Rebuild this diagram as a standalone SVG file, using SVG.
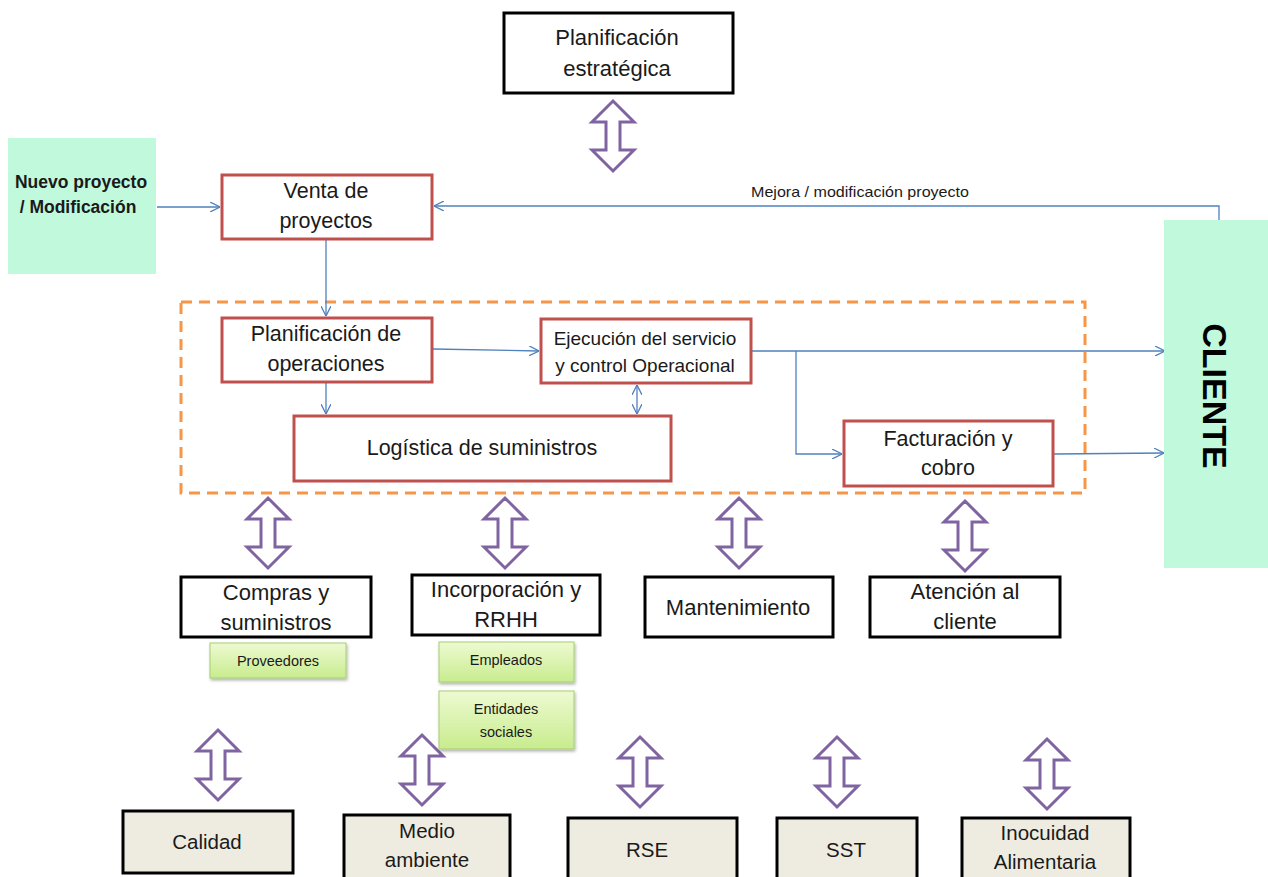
<svg xmlns="http://www.w3.org/2000/svg" width="1268" height="877" viewBox="0 0 1268 877">
<style>
text{font-family:"Liberation Sans",Arial,sans-serif;fill:#1a1a1a;text-anchor:middle}
.t{font-size:21.5px}
.b{font-size:22px}
.q{font-size:20.5px}
.s{font-size:14.5px}
.red{fill:#fff;stroke:#c0504d;stroke-width:3}
.blk{fill:#fff;stroke:#000;stroke-width:3}
.beige{fill:#eeece1;stroke:#000;stroke-width:3}
.grn{fill:url(#g);stroke:#a6cf6e;stroke-width:1}
.teal{fill:#c0f9dc}
.con{fill:none;stroke:#4f81bd;stroke-width:1.3}
.dbl{fill:#fff;stroke:#8064a2;stroke-width:3;stroke-linejoin:miter}
</style>
<defs>
<linearGradient id="g" x1="0" y1="0" x2="0" y2="1"><stop offset="0" stop-color="#eefad2"/><stop offset="1" stop-color="#c8ec8e"/></linearGradient>
<marker id="a" viewBox="0 0 10 10" refX="10" refY="5" markerWidth="10" markerHeight="10" markerUnits="userSpaceOnUse" orient="auto-start-reverse"><path d="M0,0 L10,5 L0,10" fill="none" stroke="#4f81bd" stroke-width="1.3"/></marker>
<path id="dbl" class="dbl" d="M0,0 L21,21 L7,21 L7,49 L21,49 L0,70 L-21,49 L-7,49 L-7,21 L-21,21 Z"/>
<filter id="sh" x="-10%" y="-10%" width="130%" height="140%"><feDropShadow dx="1" dy="2" stdDeviation="1.5" flood-color="#000" flood-opacity="0.3"/></filter>
</defs>

<g id="cluster"><rect x="181" y="302" width="904" height="191" fill="none" stroke="#f79646" stroke-width="3" stroke-dasharray="11,7"/></g>

<g id="connectors">
<line class="con" x1="157" y1="207" x2="220" y2="207" marker-end="url(#a)"/>
<polyline class="con" points="1219,221 1219,206 434,206" marker-end="url(#a)"/>
<text x="860" y="197" style="font-size:14.5px" textLength="218" lengthAdjust="spacingAndGlyphs">Mejora / modificación proyecto</text>
<line class="con" x1="326" y1="240" x2="326" y2="316" marker-end="url(#a)"/>
<line class="con" x1="326" y1="383" x2="326" y2="414" marker-end="url(#a)"/>
<line class="con" x1="433" y1="349" x2="539" y2="351" marker-end="url(#a)"/>
<line class="con" x1="637" y1="385" x2="637" y2="414" marker-start="url(#a)" marker-end="url(#a)"/>
<line class="con" x1="752" y1="351" x2="1165" y2="351" marker-end="url(#a)"/>
<polyline class="con" points="796,351 796,454 842,454" marker-end="url(#a)"/>
<line class="con" x1="1054" y1="454" x2="1164" y2="453" marker-end="url(#a)"/>
<use href="#dbl" x="613" y="101"/>
<use href="#dbl" x="268" y="498"/>
<use href="#dbl" x="505" y="498"/>
<use href="#dbl" x="739" y="498"/>
<use href="#dbl" x="965" y="501"/>
<use href="#dbl" x="218" y="730"/>
<use href="#dbl" x="422" y="735"/>
<use href="#dbl" x="640" y="737"/>
<use href="#dbl" x="837" y="737"/>
<use href="#dbl" x="1047" y="739"/>
</g>

<g id="plan-estrategica"><rect class="blk" x="504" y="13" width="229" height="80"/><text class="b" x="617" y="45">Planificación</text><text class="b" x="617" y="76">estratégica</text></g>
<g id="nuevo"><rect class="teal" x="8" y="138" width="148" height="136"/><text x="81" y="188" style="font-size:17.5px;font-weight:bold">Nuevo proyecto</text><text x="78" y="213" style="font-size:17.5px;font-weight:bold">/ Modificación</text></g>
<g id="venta"><rect class="red" x="222" y="175" width="210" height="64"/><text class="t" x="326" y="198">Venta de</text><text class="t" x="326" y="228">proyectos</text></g>
<g id="cliente"><rect class="teal" x="1164" y="220" width="104" height="348"/><text transform="translate(1203,396) rotate(90)" style="font-size:34px;font-weight:bold;fill:#000">CLIENTE</text></g>
<g id="plan-ops"><rect class="red" x="222" y="318" width="210" height="64"/><text class="t" x="326" y="341">Planificación de</text><text class="t" x="326" y="371">operaciones</text></g>
<g id="ejecucion"><rect class="red" x="541" y="319" width="210" height="64"/><text x="645" y="345" style="font-size:19px">Ejecución del servicio</text><text x="645" y="372" style="font-size:19px">y control Operacional</text></g>
<g id="logistica"><rect class="red" x="294" y="416" width="377" height="65"/><text class="t" x="482" y="455">Logística de suministros</text></g>
<g id="facturacion"><rect class="red" x="844" y="421" width="209" height="65"/><text class="t" x="948" y="446">Facturación y</text><text class="t" x="948" y="475">cobro</text></g>

<g id="compras"><rect class="blk" x="181" y="577" width="190" height="60"/><text class="b" x="276" y="600">Compras y</text><text class="b" x="276" y="630">suministros</text></g>
<g id="incorporacion"><rect class="blk" x="412" y="575" width="188" height="60"/><text class="b" x="506" y="597">Incorporación y</text><text class="b" x="506" y="627">RRHH</text></g>
<g id="mantenimiento"><rect class="blk" x="645" y="577" width="188" height="60"/><text class="b" x="738" y="615">Mantenimiento</text></g>
<g id="atencion"><rect class="blk" x="870" y="577" width="190" height="60"/><text class="b" x="965" y="599">Atención al</text><text class="b" x="965" y="629">cliente</text></g>

<g id="proveedores"><rect class="grn" filter="url(#sh)" x="210" y="643" width="136" height="35"/><text class="s" x="278" y="666">Proveedores</text></g>
<g id="empleados"><rect class="grn" filter="url(#sh)" x="439" y="642" width="135" height="40"/><text class="s" x="506" y="665">Empleados</text></g>
<g id="entidades"><rect class="grn" filter="url(#sh)" x="439" y="691" width="135" height="58"/><text class="s" x="506" y="714">Entidades</text><text class="s" x="506" y="737">sociales</text></g>

<g id="calidad"><rect class="beige" x="123" y="811" width="170" height="62"/><text class="q" x="207" y="849">Calidad</text></g>
<g id="medio"><rect class="beige" x="344" y="815" width="166" height="66"/><text class="q" x="427" y="838">Medio</text><text class="q" x="427" y="867">ambiente</text></g>
<g id="rse"><rect class="beige" x="568" y="818" width="169" height="64"/><text class="q" x="647" y="857">RSE</text></g>
<g id="sst"><rect class="beige" x="777" y="818" width="140" height="64"/><text class="q" x="846" y="857">SST</text></g>
<g id="inocuidad"><rect class="beige" x="962" y="818" width="168" height="64"/><text class="q" x="1045" y="840">Inocuidad</text><text class="q" x="1045" y="869">Alimentaria</text></g>
</svg>
